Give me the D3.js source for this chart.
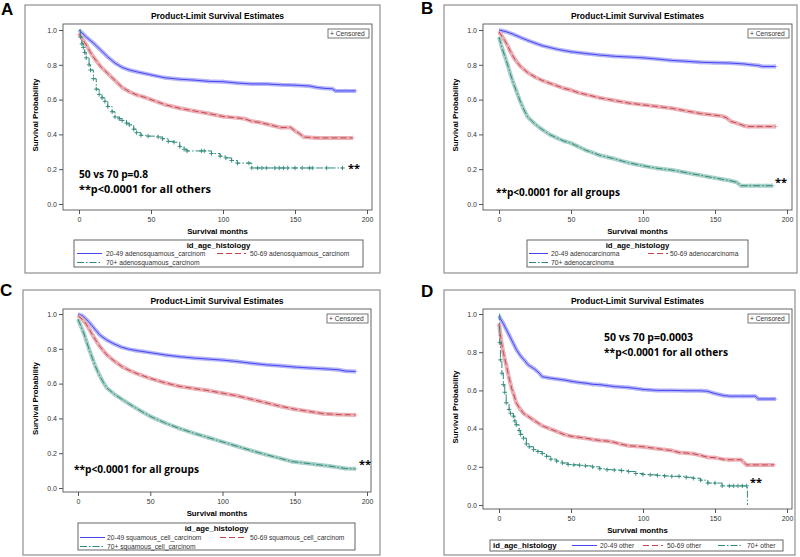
<!DOCTYPE html>
<html lang="en">
<head>
  <meta charset="UTF-8">
  <title>Product-Limit Survival Estimates</title>
  <script src="https://d3js.org/d3.v7.min.js"></script>
  <style>
    body { margin: 0; background: #fff; }
    text { font-family: "Liberation Sans", Arial, sans-serif; }
    .tick text { font-size: 7px; fill: #333; }
    .tick line { stroke: #555; }
    .title { font-size: 8.5px; font-weight: bold; text-anchor: middle; }
    .axis-label { font-size: 7.8px; font-weight: bold; text-anchor: middle; }
    .leg { font-size: 6.7px; fill: #333; }
    .note { font-family: "Open Sans", sans-serif; font-size: 11px; font-weight: bold; }
    .letter { font-size: 17px; font-weight: bold; }
  </style>
</head>
<body>
  <svg id="chart" width="800" height="557"></svg>

  <script>
    // Survival curves, rows of [month, survival probability]
    const a2049 = [[0,1],[5,0.96],[10,0.925],[15,0.885],[20,0.845],[25,0.81],[30,0.785],[35,0.77],[40,0.76],[50,0.742],[60,0.725],[70,0.717],[80,0.712],[90,0.705],[100,0.703],[110,0.695],[120,0.69],[130,0.69],[140,0.685],[150,0.683],[160,0.678],[165,0.67],[170,0.665],[176,0.662],[178,0.65],[185,0.65],[192,0.65]];
    const a5069 = [[0,0.98],[3,0.94],[5,0.915],[8,0.87],[10,0.845],[15,0.79],[20,0.75],[25,0.71],[30,0.67],[35,0.645],[40,0.627],[45,0.615],[50,0.6],[55,0.585],[60,0.57],[65,0.56],[70,0.55],[80,0.535],[90,0.52],[100,0.503],[110,0.495],[115,0.49],[120,0.475],[125,0.47],[130,0.46],[135,0.45],[140,0.44],[147,0.44],[150,0.42],[153,0.405],[156,0.385],[165,0.38],[175,0.38],[190,0.38]];
    const a70 = [[0,1],[1,0.96],[2,0.92],[3,0.9],[4,0.87],[5,0.84],[7,0.8],[8,0.77],[10,0.72],[12,0.66],[14,0.63],[16,0.61],[18,0.59],[20,0.56],[23,0.53],[25,0.5],[28,0.49],[30,0.48],[33,0.465],[35,0.455],[38,0.43],[40,0.41],[43,0.395],[48,0.39],[55,0.385],[58,0.375],[62,0.36],[66,0.355],[70,0.33],[73,0.315],[75,0.305],[85,0.305],[87,0.305],[92,0.29],[98,0.275],[102,0.265],[106,0.25],[110,0.235],[118,0.235],[120,0.207],[124,0.207],[127,0.207],[130,0.207],[136,0.207],[139,0.207],[142,0.207],[145,0.207],[150,0.207],[155,0.207],[160,0.207],[162,0.207],[172,0.207],[183,0.207]];

    const b2049 = [[0,1],[5,0.99],[10,0.975],[15,0.957],[20,0.94],[25,0.925],[30,0.91],[35,0.9],[40,0.89],[45,0.882],[50,0.875],[60,0.865],[70,0.856],[80,0.849],[90,0.845],[100,0.84],[110,0.833],[120,0.825],[130,0.82],[140,0.815],[150,0.812],[160,0.81],[170,0.805],[175,0.8],[180,0.796],[183,0.79],[192,0.79]];
    const b5069 = [[0,0.99],[2,0.965],[4,0.94],[6,0.91],[8,0.875],[10,0.845],[12,0.82],[15,0.79],[20,0.755],[25,0.73],[30,0.71],[35,0.695],[40,0.68],[45,0.665],[50,0.655],[55,0.64],[60,0.63],[65,0.62],[70,0.61],[80,0.595],[90,0.58],[100,0.57],[110,0.56],[120,0.55],[130,0.535],[140,0.52],[150,0.51],[155,0.505],[158,0.495],[161,0.475],[165,0.465],[170,0.45],[173,0.445],[180,0.445],[192,0.445]];
    const b70 = [[0,0.96],[2,0.9],[4,0.85],[6,0.8],[8,0.745],[10,0.695],[12,0.65],[15,0.585],[18,0.53],[20,0.5],[23,0.475],[25,0.46],[28,0.44],[30,0.428],[35,0.4],[40,0.38],[45,0.362],[50,0.35],[55,0.33],[60,0.31],[65,0.295],[70,0.28],[75,0.27],[80,0.26],[85,0.248],[90,0.237],[95,0.228],[100,0.22],[105,0.212],[110,0.205],[115,0.2],[120,0.195],[125,0.188],[130,0.18],[135,0.172],[140,0.165],[145,0.157],[150,0.15],[155,0.142],[160,0.135],[165,0.125],[168,0.105],[175,0.105],[180,0.105],[186,0.105],[190,0.105]];

    const c2049 = [[0,1],[3,0.99],[5,0.975],[8,0.95],[10,0.93],[13,0.9],[15,0.88],[18,0.862],[20,0.85],[25,0.828],[30,0.81],[35,0.798],[40,0.79],[45,0.784],[50,0.778],[60,0.765],[70,0.755],[80,0.747],[90,0.741],[100,0.735],[110,0.727],[120,0.717],[130,0.708],[140,0.702],[150,0.695],[160,0.69],[170,0.685],[180,0.68],[185,0.672],[192,0.67]];
    const c5069 = [[0,0.99],[3,0.97],[5,0.95],[8,0.91],[10,0.88],[13,0.84],[15,0.815],[18,0.785],[20,0.765],[25,0.73],[30,0.7],[35,0.678],[40,0.66],[45,0.645],[50,0.63],[60,0.605],[70,0.585],[80,0.572],[90,0.56],[100,0.545],[110,0.53],[120,0.51],[130,0.49],[140,0.47],[150,0.453],[160,0.44],[170,0.427],[180,0.422],[192,0.42]];
    const c70 = [[0,0.97],[2,0.93],[4,0.89],[6,0.84],[8,0.79],[10,0.745],[12,0.7],[15,0.645],[18,0.6],[20,0.575],[25,0.54],[30,0.512],[35,0.485],[40,0.46],[45,0.435],[50,0.412],[55,0.393],[60,0.375],[70,0.343],[80,0.315],[90,0.29],[100,0.265],[110,0.24],[120,0.215],[130,0.192],[140,0.17],[148,0.152],[155,0.145],[165,0.135],[175,0.125],[185,0.112],[192,0.11]];

    const d2049 = [[0,0.99],[1,0.975],[3,0.95],[5,0.92],[7,0.89],[10,0.845],[12,0.815],[15,0.78],[18,0.755],[20,0.735],[23,0.72],[25,0.71],[28,0.69],[30,0.672],[35,0.665],[40,0.66],[45,0.655],[50,0.648],[55,0.642],[60,0.638],[65,0.632],[70,0.63],[75,0.625],[80,0.62],[90,0.615],[95,0.61],[100,0.605],[110,0.6],[120,0.6],[130,0.598],[140,0.598],[145,0.595],[148,0.588],[152,0.58],[156,0.573],[160,0.57],[170,0.57],[178,0.57],[180,0.555],[186,0.555],[192,0.555]];
    const d5069 = [[0,0.95],[1,0.89],[2,0.84],[3,0.8],[4,0.765],[5,0.735],[6,0.7],[7,0.665],[8,0.635],[9,0.605],[10,0.585],[12,0.535],[14,0.51],[15,0.5],[17,0.48],[20,0.465],[22,0.455],[25,0.44],[28,0.425],[30,0.415],[35,0.4],[40,0.385],[45,0.37],[50,0.36],[55,0.355],[60,0.35],[65,0.343],[70,0.338],[75,0.335],[80,0.328],[85,0.318],[90,0.31],[95,0.308],[100,0.305],[110,0.295],[115,0.29],[120,0.285],[125,0.275],[130,0.272],[135,0.268],[140,0.26],[145,0.25],[150,0.248],[155,0.24],[160,0.237],[168,0.237],[172,0.21],[178,0.21],[182,0.21],[186,0.21],[191,0.21]];
    const d70 = [[0,1],[0.5,0.85],[1,0.76],[2,0.69],[3,0.63],[4,0.59],[5,0.535],[7,0.5],[8,0.48],[10,0.465],[11,0.44],[12,0.42],[14,0.39],[15,0.37],[17,0.35],[19,0.32],[21,0.305],[24,0.29],[27,0.28],[30,0.27],[33,0.255],[36,0.24],[40,0.23],[44,0.22],[48,0.212],[52,0.21],[56,0.208],[60,0.205],[65,0.2],[70,0.19],[75,0.185],[80,0.183],[85,0.18],[90,0.175],[95,0.165],[100,0.16],[105,0.158],[110,0.155],[115,0.152],[120,0.15],[125,0.15],[130,0.145],[135,0.14],[140,0.13],[145,0.115],[150,0.115],[155,0.1],[160,0.1],[163,0.1],[166,0.1],[169,0.1],[172,0.1],[172.5,0]];

    const xTicks = [0, 50, 100, 150, 200];
    const yTicks = [0, 0.2, 0.4, 0.6, 0.8, 1.0];

    const legendA = ["20-49 adenosquamous_carcinom", "50-69 adenosquamous_carcinom", "70+ adenosquamous_carcinom"];
    const legendB = ["20-49 adenocarcinoma", "50-69 adenocarcinoma", "70+ adenocarcinoma"];
    const legendC = ["20-49 squamous_cell_carcinom", "50-69 squamous_cell_carcinom", "70+ squamous_cell_carcinom"];
    const legendD = ["20-49 other", "50-69 other", "70+ other"];

    const notesA = ["50 vs 70 p=0.8", "**p<0.0001 for all others"];
    const notesB = ["**p<0.0001 for all groups"];
    const notesC = ["**p<0.0001 for all groups"];
    const notesD = ["50 vs 70 p=0.0003", "**p<0.0001 for all others"];

    const colors = ["#4646f2", "#c84650", "#2f8a7a"];
    const bands = ["#b4b4f8", "#eab0b6", "#a9d0c8"];
    const dashes = [null, "6,3", "7,2,1.5,2"];

    const svg = d3.select("#chart");

    const panels = [
      { letter: "A", lx: 1, ly: 15, frame: [25, 5, 355, 268], box: [63, 372, 24, 210], xr: [79, 367], yr: [204, 30],
        series: [a2049, a5069, a70], dense: [true, true, false], labels: legendA,
        notes: notesA, noteXY: [79, 178], noteLen: [69, 132], star: [348, 172],
        leg: { box: [74, 240, 289, 27], title: 248, rows: [[77, 102, 106, 256], [217, 246, 250, 256], [77, 102, 106, 265]] } },
      { letter: "B", lx: 421, ly: 14, frame: [444, 5, 353, 268], box: [483, 792, 24, 210], xr: [499, 787], yr: [204, 30],
        series: [b2049, b5069, b70], dense: [true, true, true], labels: legendB,
        notes: notesB, noteXY: [496, 196], noteLen: [124], star: [775, 186],
        leg: { box: [527, 240, 221, 27], title: 248, rows: [[529, 548, 551, 256], [648, 668, 670, 256], [529, 548, 551, 265]] } },
      { letter: "C", lx: 0, ly: 296, frame: [23, 290, 357, 265], box: [63, 371, 309, 492], xr: [78, 367], yr: [488, 314],
        series: [c2049, c5069, c70], dense: [true, true, true], labels: legendC,
        notes: notesC, noteXY: [74, 473], noteLen: [125], star: [359, 468],
        leg: { box: [78, 523, 277, 27], title: 531, rows: [[80, 105, 107, 540], [220, 247, 250, 540], [80, 105, 107, 549]] } },
      { letter: "D", lx: 421, ly: 297, frame: [444, 290, 351, 265], box: [483, 792, 309, 509], xr: [499, 787], yr: [505, 314],
        series: [d2049, d5069, d70], dense: [true, true, false], labels: legendD,
        notes: notesD, noteXY: [604, 341], noteLen: [89, 124], star: [750, 486],
        leg: { box: [490, 540, 293, 11], title: null, rows: [[572, 597, 600, 548], [643, 663, 667, 548], [718, 743, 747, 548]] } }
    ];

    panels.forEach(p => {
      const g = svg.append("g");
      const [bx0, bx1, by0, by1] = p.box;
      const x = d3.scaleLinear().domain([0, 200]).range(p.xr);
      const y = d3.scaleLinear().domain([0, 1]).range(p.yr);

      // outer frame
      g.append("rect")
        .attr("x", p.frame[0]).attr("y", p.frame[1])
        .attr("width", p.frame[2]).attr("height", p.frame[3])
        .attr("fill", "none").attr("stroke", "#8f8f8f").attr("stroke-width", 1.2);

      g.append("text").attr("class", "letter")
        .attr("x", p.lx).attr("y", p.ly).text(p.letter);

      g.append("text").attr("class", "title")
        .attr("x", (bx0 + bx1) / 2).attr("y", by0 - 5)
        .text("Product-Limit Survival Estimates");

      // axes
      g.append("g")
        .attr("transform", "translate(" + bx0 + ",0)")
        .call(d3.axisLeft(y).tickValues(yTicks).tickFormat(d3.format(".1f")).tickSize(4).tickPadding(2))
        .call(a => a.select(".domain").remove());

      g.append("g")
        .attr("transform", "translate(0," + by1 + ")")
        .call(d3.axisBottom(x).tickValues(xTicks).tickSize(4).tickPadding(3))
        .call(a => a.select(".domain").remove());

      g.append("text").attr("class", "axis-label")
        .attr("x", (bx0 + bx1) / 2).attr("y", by1 + 24)
        .text("Survival months");

      g.append("text").attr("class", "axis-label")
        .attr("transform", "rotate(-90)")
        .attr("x", -(by0 + by1) / 2 + 2).attr("y", bx0 - 25)
        .text("Survival Probability");

      // censored key
      g.append("rect")
        .attr("x", bx1 - 44).attr("y", by0 + 5).attr("width", 41).attr("height", 9)
        .attr("fill", "#fff").attr("stroke", "#555").attr("stroke-width", 0.8);
      g.append("text").attr("class", "leg")
        .attr("x", bx1 - 42).attr("y", by0 + 12)
        .text("+ Censored");

      // curves
      p.series.forEach((s, i) => {
        const line = d3.line()
          .x(d => x(d[0])).y(d => y(d[1]))
          .curve(p.dense[i] ? d3.curveLinear : d3.curveStepAfter);
        const marks = s.slice(1).filter(d => d[1] > 0);
        if (p.dense[i]) {
          g.append("path").datum(s)
            .attr("d", line).attr("fill", "none")
            .attr("stroke", bands[i]).attr("stroke-width", 4).attr("stroke-linejoin", "round");
        }
        g.selectAll(".cm" + i).data(marks).enter().append("path")
          .attr("d", d => "M" + (x(d[0]) - 2.2) + "," + y(d[1]) + "h4.4M" + x(d[0]) + "," + (y(d[1]) - 2.2) + "v4.4")
          .attr("stroke", p.dense[i] ? bands[i] : colors[i]).attr("stroke-width", 0.9);
        g.append("path").datum(s)
          .attr("d", line).attr("fill", "none")
          .attr("stroke", colors[i]).attr("stroke-width", 1)
          .attr("stroke-dasharray", dashes[i]);
      });

      // plot box
      g.append("rect")
        .attr("x", bx0).attr("y", by0).attr("width", bx1 - bx0).attr("height", by1 - by0)
        .attr("fill", "none").attr("stroke", "#555").attr("stroke-width", 0.9);

      // annotations
      p.notes.forEach((t, i) => {
        g.append("text").attr("class", "note")
          .attr("x", p.noteXY[0]).attr("y", p.noteXY[1] + i * 15)
          .attr("textLength", p.noteLen[i]).attr("lengthAdjust", "spacingAndGlyphs")
          .text(t);
      });
      g.append("text").attr("class", "note")
        .attr("x", p.star[0]).attr("y", p.star[1])
        .text("**");

      // legend
      const L = p.leg;
      g.append("rect")
        .attr("x", L.box[0]).attr("y", L.box[1]).attr("width", L.box[2]).attr("height", L.box[3])
        .attr("fill", "#fff").attr("stroke", "#555").attr("stroke-width", 0.9);
      if (L.title !== null) {
        g.append("text").attr("class", "axis-label")
          .attr("x", L.box[0] + L.box[2] / 2).attr("y", L.title)
          .text("id_age_histology");
      } else {
        g.append("text").attr("class", "axis-label")
          .style("text-anchor", "start")
          .attr("x", L.box[0] + 3).attr("y", L.rows[0][3])
          .text("id_age_histology");
      }
      L.rows.forEach((r, i) => {
        g.append("line")
          .attr("x1", r[0]).attr("x2", r[1]).attr("y1", r[3] - 2.5).attr("y2", r[3] - 2.5)
          .attr("stroke", colors[i]).attr("stroke-width", 1)
          .attr("stroke-dasharray", dashes[i]);
        g.append("text").attr("class", "leg")
          .attr("x", r[2]).attr("y", r[3])
          .text(p.labels[i]);
      });
    });
  </script>
</body>
</html>
